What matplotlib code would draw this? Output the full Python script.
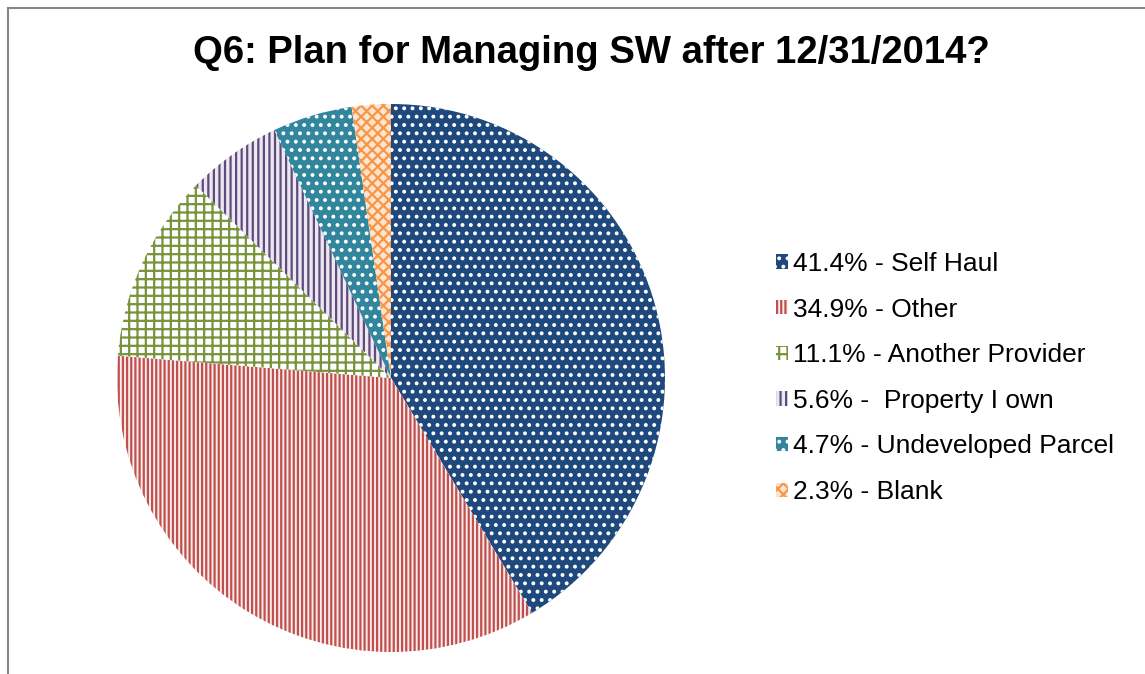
import matplotlib.pyplot as plt
from matplotlib.lines import Line2D

plt.rcParams['font.family'] = ['Liberation Sans', 'DejaVu Sans']
plt.rcParams['hatch.linewidth'] = 1.6

# 데이터
labels = ['41.4% - Self Haul', '34.9% - Other', '11.1% - Another Provider',
          '5.6% -  Property I own', '4.7% - Undeveloped Parcel', '2.3% - Blank']
values = [41.4, 34.9, 11.1, 5.6, 4.7, 2.3]

# 스타일 (면 색, 해치 색, 해치 패턴)
faces = ['#1F497D', '#FBECEC', '#FFFFFF', '#ECE8F2', '#31859C', '#FCE4D0']
hatch_colors = ['#FFFFFF', '#C0504D', '#77933C', '#604A7B', '#FFFFFF', '#F79646']
hatches = ['..', '||||', '++', '|||', '..', 'xxx']

fig = plt.figure(figsize=(11.45, 6.74), dpi=100)
W, H = 1145, 674

# 파이 위치 (픽셀 기준)
cx, cy, r = 391, 378, 274
ax = fig.add_axes([(cx - r) / W, (H - cy - r) / H, 2 * r / W, 2 * r / H])

wedges, _ = ax.pie(values, startangle=90, counterclock=False, radius=1,
                   wedgeprops=dict(linewidth=0))
for w, fc, hc, h in zip(wedges, faces, hatch_colors, hatches):
    w.set_facecolor(fc)
    w.set_edgecolor(hc)
    w.set_hatch(h)
    w.set_linewidth(0)
ax.set_xlim(-1, 1)
ax.set_ylim(-1, 1)
ax.axis('off')

# 제목
fig.text(591 / W, 1 - 53 / H, 'Q6: Plan for Managing SW after 12/31/2014?',
         ha='center', va='center', fontsize=27.5, fontweight='bold')

# 범례
leg = fig.legend(wedges, labels, loc='center left',
                 bbox_to_anchor=(776 / W, 1 - 378 / H),
                 frameon=False, fontsize=19, borderpad=0, borderaxespad=0,
                 handlelength=0.45, handleheight=0.45, handletextpad=0.2,
                 labelspacing=0.82)

# 테두리 (왼쪽, 위쪽)
fig.add_artist(Line2D([7.5 / W, 7.5 / W], [0, 1 - 8 / H], color='#868686',
                      linewidth=1.5, transform=fig.transFigure))
fig.add_artist(Line2D([7.5 / W, 1], [1 - 8 / H, 1 - 8 / H], color='#868686',
                      linewidth=1.5, transform=fig.transFigure))

fig.savefig('out.png', dpi=100)
